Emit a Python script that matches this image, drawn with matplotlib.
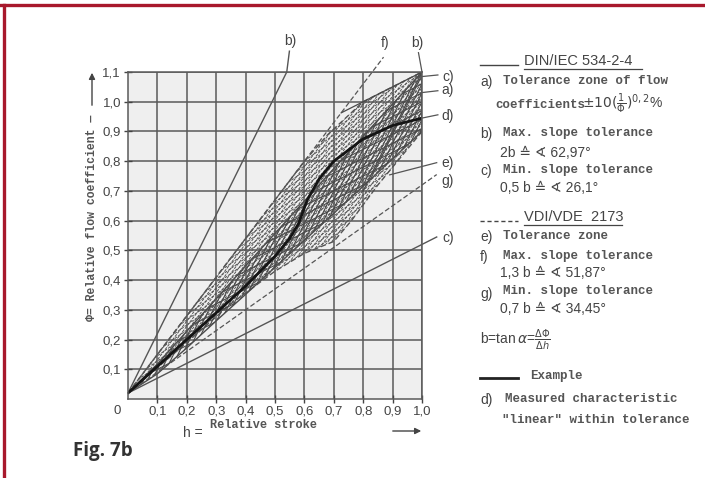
import numpy as np
import matplotlib.pyplot as plt
from matplotlib.patches import Polygon, Rectangle
from matplotlib.collections import LineCollection
from matplotlib.lines import Line2D

plt.rcParams['font.family'] = ['Liberation Sans Narrow', 'Liberation Sans', 'DejaVu Sans']
plt.rcParams['mathtext.fontset'] = 'dejavusans'

W, H = 705, 478
MONO = ['Liberation Mono', 'DejaVu Sans Mono']
INK = '#444444'
MESH = '#555555'

# axis ticks
x_ticks = [0.1, 0.2, 0.3, 0.4, 0.5, 0.6, 0.7, 0.8, 0.9, 1.0]
x_labels = ['0,1', '0,2', '0,3', '0,4', '0,5', '0,6', '0,7', '0,8', '0,9', '1,0']
y_ticks = [0.1, 0.2, 0.3, 0.4, 0.5, 0.6, 0.7, 0.8, 0.9, 1.0, 1.1]
y_labels = ['0,1', '0,2', '0,3', '0,4', '0,5', '0,6', '0,7', '0,8', '0,9', '1,0', '1,1']

# slopes of the limit lines (start point phi0 at h=0)
phi0 = 0.02
slope_b = 2.0   # DIN max slope
slope_c = 0.5   # DIN min slope
slope_f = 1.3   # VDI max slope
slope_g = 0.7   # VDI min slope

# VDI/VDE 2173 tolerance zone e)
e_up_h = [0, 0.2, 0.4, 0.6, 0.68, 0.8, 0.9, 1.0]
e_up_phi = [0.02, 0.28, 0.54, 0.80, 0.89, 1.0, 1.05, 1.1]
e_lo_h = [1.0, 0.85, 0.76, 0.7, 0.6, 0.5, 0.35, 0.2, 0.0]
e_lo_phi = [0.9, 0.72, 0.6, 0.53, 0.49, 0.43, 0.32, 0.19, 0.02]

# DIN/IEC 534-2-4 tolerance zone a)
a_h = [0, 0.1, 0.2, 0.3, 0.4, 0.5, 0.6, 0.7, 0.8, 0.9, 1.0]
a_up = [0.02, 0.118, 0.228, 0.337, 0.448, 0.557, 0.666, 0.775, 0.884, 0.992, 1.1]
a_lo = [0.02, 0.085, 0.172, 0.263, 0.352, 0.443, 0.534, 0.625, 0.716, 0.808, 0.9]

# example: measured characteristic d)
d_h = [0, 0.1, 0.2, 0.3, 0.4, 0.45, 0.5, 0.55, 0.58, 0.61, 0.65, 0.7, 0.8, 0.9, 1.0]
d_phi = [0.02, 0.11, 0.2, 0.29, 0.38, 0.43, 0.48, 0.54, 0.59, 0.67, 0.74, 0.80, 0.875, 0.92, 0.945]

fig = plt.figure(figsize=(W / 100, H / 100), dpi=100)
ax = fig.add_axes([128 / W, 1 - 399 / H, 294 / W, 327 / H])
ax.set_xlim(0, 1.0)
ax.set_ylim(0, 1.1)
ax.set_facecolor('#efefef')
ax.set_xticks(x_ticks)
ax.set_xticklabels(x_labels)
ax.set_yticks(y_ticks)
ax.set_yticklabels(y_labels)
ax.tick_params(direction='inout', length=6, width=1, colors=INK, labelsize=9.5, pad=2)
ax.grid(True, color='#5a5a5a', lw=1.1)
ax.set_axisbelow(True)
for sp in ax.spines.values():
    sp.set_color('#5a5a5a')
    sp.set_linewidth(1.1)
ax.text(-0.037, -0.04, '0', ha='center', va='center', fontsize=9.5, color=INK, clip_on=False)


def hatch(poly, slopes, step, **kw):
    segs = []
    for s in slopes:
        for c in np.arange(-s - 0.5, 1.6, step):
            segs.append([(0, c), (1, c + s)])
    lc = LineCollection(segs, **kw)
    ax.add_collection(lc)
    lc.set_clip_path(poly)


# VDI zone e): dashed mesh
zone_e = Polygon(np.column_stack([e_up_h + e_lo_h, e_up_phi + e_lo_phi]), closed=True,
                 facecolor='none', edgecolor=MESH, lw=1.0, ls=(0, (4, 2)))
ax.add_patch(zone_e)
hatch(zone_e, [slope_f, slope_g], 0.017, colors=MESH, linewidths=0.7, linestyles=(0, (3, 1.2)))

# DIN zone a): solid mesh
zone_a = Polygon(np.column_stack([a_h + a_h[::-1], a_up + a_lo[::-1]]), closed=True,
                 facecolor='none', edgecolor='#4a4a4a', lw=1.0)
ax.add_patch(zone_a)
hatch(zone_a, [slope_b, slope_c], 0.03, colors='#4a4a4a', linewidths=0.8)

# limit lines
hb = np.array([0, (1.1 - phi0) / slope_b])
ax.plot(hb, phi0 + slope_b * hb, color='#555555', lw=1.0)
ax.plot([hb[1], 0.549], [1.1, 1.17], color='#555555', lw=1.0, clip_on=False)
hc = np.array([0, 1.05])
ax.plot(hc, phi0 + slope_c * hc, color='#555555', lw=1.0, clip_on=False)
hf = np.array([0, (1.15 - phi0) / slope_f])
ax.plot(hf, phi0 + slope_f * hf, color=MESH, lw=0.9, ls=(0, (4, 2)), clip_on=False)
hg = np.array([0, 1.05])
ax.plot(hg, phi0 + slope_g * hg, color=MESH, lw=0.9, ls=(0, (4, 2)), clip_on=False)
# limit lines through the upper corner
ax.plot([1.0, 0.725], [1.1, 1.1 - slope_c * 0.275], color='#4a4a4a', lw=0.9)
ax.plot([1.0, 0.8], [1.1, 1.1 - slope_b * 0.2], color='#4a4a4a', lw=0.9)

# example curve d)
ax.plot(d_h, d_phi, color='#151515', lw=2.0, solid_capstyle='round')

# leader lines to labels
leaders = [([0.993, 1.054], [1.084, 1.09]),
           ([0.993, 1.054], [1.03, 1.037]),
           ([1.0, 1.054], [0.945, 0.956]),
           ([0.89, 1.05], [0.754, 0.795]),
           ([1.0, 0.988], [1.1, 1.165])]
for lh, lp in leaders:
    ax.plot(lh, lp, color='#555555', lw=0.9, clip_on=False)

lab_kw = dict(fontsize=10, color=INK, va='center', ha='center', clip_on=False)
for txt, h, p in [('c)', 1.088, 1.084), ('a)', 1.088, 1.04), ('d)', 1.088, 0.953),
                  ('e)', 1.088, 0.795), ('g)', 1.088, 0.735), ('c)', 1.088, 0.542),
                  ('b)', 0.553, 1.205), ('f)', 0.876, 1.197), ('b)', 0.985, 1.197)]:
    ax.text(h, p, txt, **lab_kw)


def ftxt(x, y, s, **kw):
    kw.setdefault('color', INK)
    kw.setdefault('va', 'center')
    fig.text(x / W, 1 - y / H, s, **kw)


def fline(x0, x1, y, **kw):
    fig.add_artist(Line2D([x0 / W, x1 / W], [1 - y / H, 1 - y / H], **kw))


# axis titles
ftxt(92, 218, 'Φ= Relative flow coefficient —', rotation=90, ha='center',
     family=MONO, fontsize=8.3, weight='bold', color='#555555')
ax.annotate('', xy=(92, H - 70), xytext=(92, H - 108), xycoords='figure pixels',
            arrowprops=dict(arrowstyle='-|>', color=INK, lw=1, mutation_scale=9))
ftxt(193, 433, 'h =', fontsize=10, ha='center')
ftxt(263, 425, 'Relative stroke', family=MONO, fontsize=8.6, weight='bold',
     color='#555555', ha='center')
ax.annotate('', xy=(424, H - 431), xytext=(390, H - 431), xycoords='figure pixels',
            arrowprops=dict(arrowstyle='-|>', color=INK, lw=1, mutation_scale=9))

# legend panel
mono = dict(family=MONO, fontsize=9, weight='bold', color='#555555')
fline(480, 518, 65, color=INK, lw=1)
ftxt(524, 61, 'DIN/IEC 534-2-4', fontsize=10.5)
fline(524, 642, 69, color=INK, lw=0.9)
ftxt(480, 82, 'a)', fontsize=10)
ftxt(503, 81, 'Tolerance zone of flow', **mono)
ftxt(495, 105, 'coefficients', **mono)
ftxt(582, 104, r'$\pm10(\frac{1}{\Phi})^{0,2}$%', fontsize=10)
ftxt(480, 134, 'b)', fontsize=10)
ftxt(503, 133, 'Max. slope tolerance', **mono)
ftxt(500, 153, '2b ≙ ∢ 62,97°', fontsize=10)
ftxt(480, 171, 'c)', fontsize=10)
ftxt(503, 170, 'Min. slope tolerance', **mono)
ftxt(500, 188, '0,5 b ≙ ∢ 26,1°', fontsize=10)
fline(480, 518, 221, color=INK, lw=1, ls=(0, (3, 2)))
ftxt(524, 217, 'VDI/VDE  2173', fontsize=10.5)
fline(524, 622, 225, color=INK, lw=0.9)
ftxt(480, 237, 'e)', fontsize=10)
ftxt(503, 236, 'Tolerance zone', **mono)
ftxt(480, 257, 'f)', fontsize=10)
ftxt(503, 256, 'Max. slope tolerance', **mono)
ftxt(500, 273, '1,3 b ≙ ∢ 51,87°', fontsize=10)
ftxt(480, 294, 'g)', fontsize=10)
ftxt(503, 291, 'Min. slope tolerance', **mono)
ftxt(500, 309, '0,7 b ≙ ∢ 34,45°', fontsize=10)
ftxt(480, 340, r'b=tan$\,\alpha$=$\frac{\Delta\Phi}{\Delta h}$', fontsize=10)
fline(480, 518, 378, color='#222222', lw=2)
ftxt(530, 376, 'Example', **mono)
ftxt(480, 400, 'd)', fontsize=10)
ftxt(505, 399, 'Measured characteristic', **mono)
ftxt(502, 420, '"linear" within tolerance', **mono)

# scan cut-off at the bottom
fig.add_artist(Rectangle((160 / W, 0), 1, 1 - 437 / H, transform=fig.transFigure,
                         facecolor='white', edgecolor='none', zorder=5))

ftxt(73, 451, 'Fig. 7b', family=['Open Sans', 'DejaVu Sans'], fontsize=13.5,
     weight='bold', color='#333333', zorder=6)

# red frame
fig.add_artist(Line2D([0, 1], [1 - 5 / H, 1 - 5 / H], color='#a8182c', lw=2.4))
fig.add_artist(Line2D([4 / W, 4 / W], [0, 1 - 5 / H], color='#a8182c', lw=2.4))

fig.savefig('out.png', dpi=100)
